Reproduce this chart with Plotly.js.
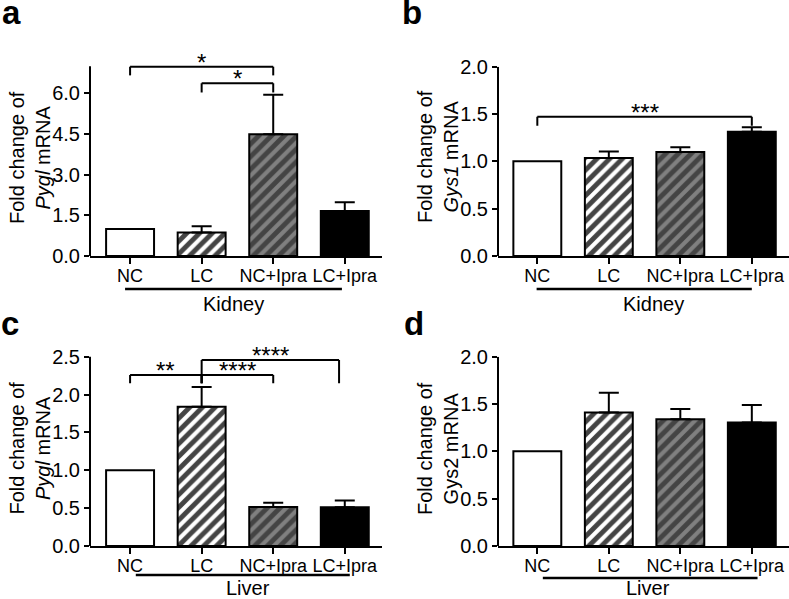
<!DOCTYPE html>
<html>
<head>
<meta charset="utf-8">
<script src="https://cdn.plot.ly/plotly-3.0.1.min.js"></script>
<style>html,body{margin:0;padding:0;background:#fff;}#chart{width:789px;height:599px;}</style>
</head>
<body>
<div id="chart"></div>
<script>
// ---------------- DATA ----------------
const categories = ['NC', 'LC', 'NC+Ipra', 'LC+Ipra'];

// a: Pygl mRNA, kidney
const pyglKidney    = [1.0, 0.87, 4.49, 1.66];
const pyglKidneySem = [NaN, 0.23, 1.46, 0.32];
// b: Gys1 mRNA, kidney
const gys1Kidney    = [1.0, 1.035, 1.098, 1.313];
const gys1KidneySem = [NaN, 0.07, 0.05, 0.047];
// c: Pygl mRNA, liver
const pyglLiver     = [1.0, 1.84, 0.515, 0.51];
const pyglLiverSem  = [NaN, 0.26, 0.055, 0.09];
// d: Gys2 mRNA, liver
const gys2Liver     = [1.0, 1.41, 1.34, 1.306];
const gys2LiverSem  = [NaN, 0.21, 0.107, 0.184];

// y tick values per panel
const ticksA = [0, 1.5, 3.0, 4.5, 6.0];
const ticksB = [0, 0.5, 1.0, 1.5, 2.0];
const ticksC = [0, 0.5, 1.0, 1.5, 2.0, 2.5];
const ticksD = [0, 0.5, 1.0, 1.5, 2.0];

// significance brackets: [from, to, bar height, tip end, label]
const sigA = [[0, 2, 6.98, 6.66, '*'], [1, 2, 6.37, 6.03, '*']];
const sigB = [[0, 3, 1.47, 1.375, '***']];
const sigC = [[0, 1, 2.259, 2.149, '**'], [1, 2, 2.259, 2.149, '****'], [1, 2.92, 2.457, 2.149, '****']];
const sigD = [];

// ---------------- STYLE ----------------
const barColors   = ['#ffffff', '#ffffff', '#808080', '#000000'];
const barPatterns = ['', '/', '/', ''];
const FONT = 'Liberation Sans, Arial, Helvetica, sans-serif';
const W = 789, H = 599;
const px = x => x / W;
const py = y => 1 - y / H;

function barTrace(vals, sem, n) {
  return {
    type: 'bar', x: categories, y: vals,
    xaxis: 'x' + n, yaxis: 'y' + n, width: 0.67,
    marker: {
      color: barColors,
      line: {color: '#000', width: 2},
      pattern: {shape: barPatterns, fillmode: 'overlay', fgcolor: '#000', fgopacity: 1, size: 9, solidity: 0.55}
    },
    error_y: {type: 'data', symmetric: false, array: sem,
      arrayminus: sem.map(v => isNaN(v) ? NaN : 0),
      color: '#000', thickness: 2, width: 10},
    hoverinfo: 'skip', showlegend: false
  };
}

const traces = [
  barTrace(pyglKidney, pyglKidneySem, ''),
  barTrace(gys1Kidney, gys1KidneySem, '2'),
  barTrace(pyglLiver, pyglLiverSem, '3'),
  barTrace(gys2Liver, gys2LiverSem, '4')
];

// panel geometry (pixels)
const panels = [
  {n: '',  xd: [90, 382],  yd: [49.9, 256],  xr: [-0.56, 3.52], ymax: 7.6, axisTop: 7.0, ticks: ticksA, sig: sigA,
   title: 'Fold change of<br><i>Pygl</i> mRNA', tx: 29.5, ty: 157.5, letter: 'a', lx: 0, lb: 33,
   organ: 'Kidney', ul: [-0.07, 2.96], uly: 289, ox: 1.44, oy: 304},
  {n: '2', xd: [498, 789], yd: [66.7, 256],  xr: [-0.55, 3.52], ymax: 2.0, axisTop: 2.0, ticks: ticksB, sig: sigB,
   title: 'Fold change of<br><i>Gys1</i> mRNA', tx: 438, ty: 157, letter: 'b', lx: 399.5, lb: 33,
   organ: 'Kidney', ul: [-0.01, 3.0], uly: 289, ox: 1.62, oy: 304},
  {n: '3', xd: [90, 382],  yd: [341.5, 546], xr: [-0.56, 3.52], ymax: 2.7, axisTop: 2.5, ticks: ticksC, sig: sigC,
   title: 'Fold change of<br><i>Pygl</i> mRNA', tx: 29.5, ty: 448, letter: 'c', lx: -1, lb: 344,
   organ: 'Liver', ul: [0.08, 3.07], uly: 575, ox: 1.65, oy: 588},
  {n: '4', xd: [498, 789], yd: [356.7, 546], xr: [-0.55, 3.52], ymax: 2.0, axisTop: 2.0, ticks: ticksD, sig: sigD,
   title: 'Fold change of<br>Gys2 mRNA', tx: 438, ty: 449, letter: 'd', lx: 401.5, lb: 344,
   organ: 'Liver', ul: [0.077, 3.08], uly: 578, ox: 1.55, oy: 587.5}
];

const layout = {
  width: W, height: H,
  margin: {l: 0, r: 0, t: 0, b: 0},
  paper_bgcolor: '#fff', plot_bgcolor: 'rgba(0,0,0,0)',
  font: {family: FONT, color: '#000'},
  bargap: 0, showlegend: false,
  shapes: [], annotations: []
};

panels.forEach(p => {
  const xa = 'x' + p.n, ya = 'y' + p.n;
  layout['xaxis' + p.n] = {
    domain: [px(p.xd[0]), px(p.xd[1])], anchor: ya, type: 'category', range: p.xr,
    showline: true, linecolor: '#000', linewidth: 2,
    ticks: 'outside', ticklen: 6, tickwidth: 2, tickcolor: '#000', ticklabelstandoff: -4,
    tickfont: {size: 18, family: FONT, color: '#000'},
    showgrid: false, zeroline: false, fixedrange: true
  };
  layout['yaxis' + p.n] = {
    domain: [py(p.yd[1]), py(p.yd[0])], anchor: xa, range: [0, p.ymax],
    tickvals: p.ticks, tickformat: '.1f',
    showline: false, ticks: 'outside', ticklen: 5, tickwidth: 2, tickcolor: '#000',
    tickfont: {size: 20, family: FONT, color: '#000'},
    showgrid: false, zeroline: false, fixedrange: true
  };
  // y axis line (up to its top tick region)
  layout.shapes.push({type: 'line', xref: xa + ' domain', yref: ya, x0: 0, x1: 0, y0: 0, y1: p.axisTop,
    line: {color: '#000', width: 2}, layer: 'above'});
  // significance brackets
  p.sig.forEach(s => {
    const [a, b, top, tip, lab] = s;
    const ln = {color: '#000', width: 2};
    layout.shapes.push({type: 'line', xref: xa, yref: ya, x0: a, x1: b, y0: top, y1: top, line: ln});
    layout.shapes.push({type: 'line', xref: xa, yref: ya, x0: a, x1: a, y0: top, y1: tip, line: ln});
    layout.shapes.push({type: 'line', xref: xa, yref: ya, x0: b, x1: b, y0: top, y1: tip, line: ln});
    layout.annotations.push({xref: xa, yref: ya, x: (a + b) / 2, y: top, text: lab, showarrow: false,
      xanchor: 'center', yanchor: 'bottom', yshift: -11, font: {size: 24, family: FONT, color: '#000'}});
  });
  // organ underline + label
  layout.shapes.push({type: 'line', xref: xa, yref: 'paper', x0: p.ul[0], x1: p.ul[1], y0: py(p.uly), y1: py(p.uly),
    line: {color: '#000', width: 2.5}});
  layout.annotations.push({xref: xa, yref: 'paper', x: p.ox, y: py(p.oy), text: p.organ, showarrow: false,
    xanchor: 'center', yanchor: 'middle', font: {size: 20, family: FONT, color: '#000'}});
  // y title
  layout.annotations.push({xref: 'paper', yref: 'paper', x: px(p.tx), y: py(p.ty), text: p.title, textangle: -90,
    showarrow: false, xanchor: 'center', yanchor: 'middle', font: {size: 20, family: FONT, color: '#000'}});
  // panel letter
  layout.annotations.push({xref: 'paper', yref: 'paper', x: px(p.lx), y: py(p.lb), text: '<b>' + p.letter + '</b>',
    showarrow: false, xanchor: 'left', yanchor: 'bottom', font: {size: 33, family: FONT, color: '#000'}});
});

Plotly.newPlot('chart', traces, layout, {staticPlot: true, displayModeBar: false});
</script>
</body>
</html>
